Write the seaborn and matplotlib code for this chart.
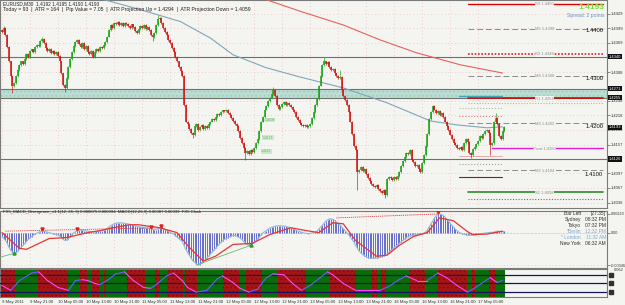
import numpy as np
import pandas as pd
import matplotlib
matplotlib.use('Agg')
import matplotlib.pyplot as plt
import seaborn as sns
from matplotlib.patches import Rectangle

# ---------------- data ----------------
# M30 closes, pips above 1.4000 (one value per bar)
close_pips = [
    392, 400, 385, 360, 330, 300, 278, 285, 300, 312,
    322, 330, 325, 335, 345, 340, 352, 355, 350, 360,
    365, 362, 372, 377, 368, 358, 352, 356, 348, 352,
    345, 350, 342, 330, 305, 282, 275, 295, 318, 335,
    350, 362, 370, 375, 366, 360, 368, 355, 362, 350,
    345, 352, 340, 350, 356, 352, 360, 358, 365, 370,
    382, 395, 405, 400, 410, 408, 412, 406, 410, 404,
    410, 408, 404, 400, 407, 402, 394, 390, 398, 403,
    400, 405, 398, 402, 395, 385, 380, 390, 405, 418,
    420, 410, 400, 392, 386, 375, 368, 358, 350, 340,
    330, 318, 310, 300, 240, 205, 200, 190, 182, 176,
    195, 200, 188, 194, 198, 190, 196, 192, 200, 205,
    210, 208, 215, 220, 218, 224, 228, 226, 230, 222,
    218, 212, 206, 200, 196, 185, 170, 160, 150, 140,
    144, 138, 146, 142, 150, 160, 168, 185, 205, 215,
    230, 238, 248, 255, 262, 270, 258, 240, 232, 236,
    242, 245, 240, 244, 240, 236, 230, 225, 215, 208,
    202, 198, 195, 198, 194, 196, 200, 212, 225, 240,
    252, 280, 300, 322, 330, 325, 328, 318, 312, 315,
    305, 300, 296, 298, 270, 258, 250, 240, 225, 205,
    180, 155, 145, 100, 105, 110, 102, 106, 95, 88,
    82, 75, 70, 68, 72, 65, 60, 56, 62, 52,
    85, 90, 88, 84, 90, 86, 92, 100, 112, 122,
    132, 140, 138, 146, 125, 120, 112, 115, 106, 100,
    118, 135, 155, 180, 210, 225, 238, 230, 222, 226,
    218, 222, 215, 205, 195, 188, 178, 168, 160, 156,
    150, 148, 152, 145, 160, 168, 162, 140, 136, 148,
    152, 158, 165, 175, 170, 180, 185, 188, 182, 156,
    160, 205, 213, 200, 175, 168, 185, 193,
]
first_open_pips = 395
high_spikes = {1: 404, 23: 381, 89: 427, 155: 276, 184: 340, 193: 312, 246: 240, 282: 223}
low_spikes = {6: 265, 36: 266, 86: 372, 109: 170, 139: 125, 203: 63, 219: 46, 268: 129, 279: 135}

# moving averages (bar, price)
ma_blue_bar = [55, 79, 102, 119, 132, 151, 170, 195, 220, 245, 260, 277, 286]
ma_blue_val = [1.4462, 1.4438, 1.4413, 1.4379, 1.4344, 1.4317, 1.4298, 1.4275,
               1.4244, 1.4206, 1.4198, 1.4192, 1.4194]
ma_red_bar = [150, 170, 195, 216, 237, 262, 286]
ma_red_val = [1.4460, 1.4435, 1.4406, 1.4375, 1.4348, 1.4323, 1.4306]

# horizontal levels
level_lines = [1.4340, 1.4273, 1.4254, 1.4127]
zone = (1.4255, 1.4271)
level_labels = ['1.4340', '1.4271', '1.4255', '1.4193', '1.4126']
level_label_vals = [1.4340, 1.4273, 1.4255, 1.4193, 1.4127]

pivot_names = ['R3', 'M5', 'R2', 'M4', 'R1', 'M3', 'Pivot', 'M2', 'S1']
pivot_vals = [1.4450, 1.4398, 1.4346, 1.4300, 1.4254, 1.4202, 1.4150, 1.4104, 1.4058]
round_vals = [1.4400, 1.4300, 1.4200, 1.4100]
proj_vals = [1.4258, 1.4234, 1.4217, 1.4133, 1.4117, 1.4089]

price_ticks = [1.4429, 1.4399, 1.4369, 1.4308, 1.4248, 1.4218, 1.4188, 1.4157,
               1.4097, 1.4067, 1.4036]

# MACD histogram, units of 1e-5
macd_hist = [
    -40, -60, -80, -110, -150, -180, -200, -210, -205, -190,
    -170, -150, -130, -110, -90, -70, -55, -40, -25, -15,
    -5, 5, 10, 15, 15, 10, 5, 0, -5, -10,
    -15, -20, -25, -35, -50, -70, -80, -75, -60, -40,
    -20, 0, 10, 20, 25, 25, 22, 20, 18, 15,
    12, 10, 8, 10, 12, 15, 18, 20, 25, 30,
    40, 55, 70, 80, 90, 95, 100, 100, 100, 98,
    95, 92, 90, 85, 80, 78, 72, 65, 60, 58,
    55, 52, 50, 48, 45, 40, 32, 28, 30, 38,
    45, 45, 40, 32, 25, 15, 5, -5, -15, -30,
    -45, -60, -75, -90, -130, -170, -200, -230, -260, -285,
    -300, -320, -330, -325, -310, -295, -280, -260, -240, -220,
    -200, -180, -160, -140, -120, -100, -85, -70, -60, -50,
    -40, -35, -30, -30, -35, -45, -55, -70, -90, -110,
    -120, -130, -125, -115, -100, -85, -65, -45, -25, -5,
    10, 20, 35, 45, 55, 60, 65, 68, 70, 70,
    70, 68, 65, 60, 55, 48, 40, 32, 25, 18,
    10, 5, 0, -5, -8, -10, -8, -5, 0, 8,
    15, 35, 55, 75, 95, 115, 130, 140, 140, 135,
    125, 110, 95, 80, 60, 40, 20, 0, -20, -45,
    -70, -95, -130, -160, -185, -205, -220, -235, -245, -255,
    -260, -262, -262, -260, -258, -255, -250, -245, -240, -230,
    -215, -200, -185, -170, -155, -140, -125, -110, -95, -80,
    -65, -50, -40, -32, -28, -25, -22, -20, -18, -15,
    -10, -5, 5, 25, 55, 85, 115, 145, 170, 185,
    190, 185, 175, 160, 140, 120, 95, 75, 55, 35,
    20, 5, -5, -12, -18, -22, -25, -25, -25, -22,
    -20, -18, -15, -12, -10, -8, -5, -2, 0, 2,
    3, 5, 10, 15, 12, 10, 10, 12,
]
signal_bar = [0, 10, 14, 27, 37, 49, 56, 62, 73, 78, 90, 100, 107, 115, 122, 132,
              143, 153, 165, 174, 181, 189, 195, 202, 214, 220, 227, 235, 243,
              250, 258, 266, 269, 277, 286]
signal_val = [0, -160, -170, -60, -50, 0, 20, 45, 80, 80, 50, 0, -150, -290, -240,
              -120, -110, -20, 50, 20, 0, 100, 90, -80, -240, -230, -130, -40, 0,
              150, 120, 10, -20, -15, 15]
bull_div = [(-1, -250, 7, -210), (111, -330, 142, -130)]
bear_div = [(2, 15, 92, 50), (191, 150, 249, 190)]
bear_arrows = [23, 43, 85, 91, 249]

# oscillator panel
osc_bar = [0, 5, 10, 17, 21, 26, 32, 38, 42, 46, 49, 53, 56, 60, 65, 70, 75, 81,
           85, 89, 94, 98, 103, 106, 111, 117, 123, 126, 132, 136, 141, 146, 151,
           155, 161, 166, 171, 176, 181, 186, 189, 195, 202, 209, 216, 222, 226,
           231, 237, 243, 249, 254, 260, 266, 269, 274, 279, 283, 286]
osc_val = [43, 26, 60, 86, 90, 60, 36, 26, 60, 63, 60, 50, 46, 60, 83, 90, 60, 36,
           33, 50, 76, 86, 60, 36, 20, 26, 66, 76, 53, 33, 20, 30, 70,
           83, 80, 50, 26, 43, 66, 90, 80, 50, 26, 26, 26, 43, 60,
           76, 60, 60, 86, 70, 43, 20, 30, 50, 70, 53, 60]
osc_levels = [80, 50, 20]
red_bands = [(-1.5, 7.5), (20.5, 37.5), (44.5, 48.5), (51.5, 55.5), (58.5, 59.5),
             (71.5, 81.5), (87.5, 90.5), (94.5, 103.5), (104.5, 111.5), (126.5, 135.5),
             (139.5, 148.5), (157.5, 173.5), (187.5, 202.5), (211.5, 214.5),
             (216.5, 219.5), (232.5, 241.5), (248.5, 265.5), (268.5, 270.5),
             (278.5, 282.5)]

date_labels = ['9 May 2011', '9 May 21:00', '10 May 05:00', '10 May 13:00',
               '10 May 21:00', '11 May 05:00', '11 May 13:00', '11 May 21:00',
               '12 May 05:00', '12 May 13:00', '12 May 21:00', '13 May 05:00',
               '13 May 13:00', '13 May 21:00', '16 May 05:00', '16 May 13:00',
               '16 May 21:00', '17 May 05:00']
clock_names = ['Bar Left', 'Sydney', 'Tokyo', '*Berlin', '* London', 'New York']
clock_times = ['[27:35]', '08:32 PM', '07:32 PM', '12:32 PM', '11:32 AM', '06:32 AM']

# ---------------- style ----------------
sns.set_theme(style='white')
plt.rcParams['font.family'] = ['Liberation Sans', 'DejaVu Sans']
plt.rcParams['hatch.linewidth'] = 0.6

BG = '#f4f4f0'
GRID = '#e6aaaa'
UP, DN = '#16a016', '#d01010'
W, H = 625, 305
XL = (-1.14, 345.7)

fig = plt.figure(figsize=(W / 100, H / 100), dpi=100, facecolor=BG)
ax = fig.add_axes([0, 1 - 208 / H, 607 / W, 208 / H], facecolor=BG)
ax2 = fig.add_axes([0, 1 - 268 / H, 607 / W, 57 / H], facecolor=BG)
ax3 = fig.add_axes([0, 1 - 297 / H, 607 / W, 28 / H], facecolor=BG)

n = len(close_pips)
idx = np.arange(n)
tick_bars = np.arange(0, 16 * len(date_labels), 16)

for a in (ax, ax2, ax3):
    a.set_xlim(*XL)
    for s in a.spines.values():
        s.set_color('#7a7a7a')
        s.set_linewidth(0.8)
    a.set_xticks(tick_bars)
    a.grid(True, color=GRID, ls=(0, (1, 4)), lw=0.5)
    a.yaxis.tick_right()
    a.tick_params(axis='y', labelsize=3, length=2, pad=1, colors='#303030', width=0.4)

# ---------------- main price panel ----------------
ax.set_ylim(1.4025, 1.4458)
ax.tick_params(axis='x', labelbottom=False, length=0)
ax.set_yticks(price_ticks)
ax.set_yticklabels([f'{v:.4f}' for v in price_ticks])

ax.add_patch(Rectangle((XL[0], zone[0]), XL[1] - XL[0], zone[1] - zone[0],
                       facecolor='#bcdcd6', edgecolor='#92d69a', hatch='....',
                       lw=0, zorder=1))
for v in level_lines:
    ax.axhline(v, color='#6f7070', lw=0.8, zorder=2)

# moving averages
sns.lineplot(x=ma_blue_bar, y=ma_blue_val, ax=ax, color='#7fa6b8', lw=0.8, zorder=3)
sns.lineplot(x=ma_red_bar, y=ma_red_val, ax=ax, color='#e86060', lw=0.8, zorder=3)

# pivot lines on the right
piv_start, piv_end = 266, 343.5
piv_style = {'R3': ('#e00000', '-', 1.0), 'R2': ('#e02020', (0, (1, 1)), 1.2),
             'R1': ('#e00000', '-', 1.2), 'Pivot': ('#e020e0', '-', 1.0),
             'S1': ('#2c8c2c', '-', 1.2)}
for name, v in zip(pivot_names, pivot_vals):
    col, ls, lw = piv_style.get(name, ('#8a8a8a', (0, (6, 3)), 0.7))
    start = 280 if name == 'Pivot' else piv_start
    ax.plot([start, piv_end], [v, v], color=col, ls=ls, lw=lw, zorder=2)
    ax.text(310, v - 0.00012, f'{name} {v:.4f}', fontsize=3, color='#8a8a8a',
            ha='center', va='center', zorder=4,
            bbox=dict(facecolor=BG, edgecolor='none', pad=0.2))
ax.plot([piv_start, piv_end], [1.4244, 1.4244], color='#9ad060', ls=(0, (1, 1.5)), lw=0.8, zorder=2)
ax.plot([piv_start, piv_end], [1.4044, 1.4044], color='#e04040', ls=(0, (1, 1.5)), lw=0.8, zorder=2)
for v in round_vals:
    ax.text(343.5, v - 0.00008, f'{v:.4f}', fontsize=4.2, color='#101010',
            ha='right', va='top', zorder=5)

proj_style = [('#40a8b8', '-', 1.0), ('#a8c0a0', ':', 0.8), ('#e08080', ':', 0.8),
              ('#e0a0a0', '-', 0.6), ('#a0a0a0', ':', 0.8), ('#802020', '-', 0.8)]
for v, (c, ls, lw) in zip(proj_vals, proj_style):
    ax.plot([261, 285.5], [v, v], color=c, ls=ls, lw=lw, zorder=2)

# candles
closes = 1.40 + np.array(close_pips) / 10000
opens = np.r_[1.40 + first_open_pips / 10000, closes[:-1]]
top = np.maximum(opens, closes)
bot = np.minimum(opens, closes)
highs = top + 0.0002
lows = bot - 0.0002
for k, v in high_spikes.items():
    highs[k] = 1.40 + v / 10000
for k, v in low_spikes.items():
    lows[k] = 1.40 + v / 10000
cols = np.where(closes >= opens, UP, DN)
ax.vlines(idx, lows, highs, colors=cols, lw=0.45, zorder=5)
ax.vlines(idx, bot, np.maximum(top, bot + 0.00008), colors=cols, lw=1.1, zorder=6)

# small green tags near the lows of 12 May
for b, v, t in [(150, 1.4208, '1.4208'), (149, 1.4171, '1.4171'), (148, 1.4143, '1.4143')]:
    ax.text(b, v, t, fontsize=2.4, color='#7aa87a', va='center', zorder=7,
            bbox=dict(facecolor='#c8ecc8', edgecolor='none', pad=0.3))

# axis highlight labels
trans = ax.get_yaxis_transform()
for t, v in zip(level_labels, level_label_vals):
    ax.text(1.003, v, t, transform=trans, fontsize=3, color='white', ha='left',
            va='center', clip_on=False, zorder=9,
            bbox=dict(facecolor='#101010', edgecolor='none', pad=0.4))

# header texts
fig.text(3 / W, 1 - 1 / H, 'EURUSD,M30  1.4192 1.4195 1.4190 1.4193', fontsize=3.4,
         color='#202020', va='top')
fig.text(3 / W, 1 - 6.5 / H,
         'Today = 93  |  ATR = 164  |  Pip Value = 7.05  |  ATR Projection Up = 1.4294  |  '
         'ATR Projection Down = 1.4059', fontsize=3.7, color='#202020', va='top')
fig.text(604 / W, 1 - 4 / H, '1.4193', fontsize=6, color='#78e03c', ha='right', va='top',
         fontweight='bold')
fig.text(605 / W, 1 - 12.5 / H, 'Spread: 2 points', fontsize=3.7, color='#6a94c0',
         ha='right', va='top')

# ---------------- MACD panel ----------------
hist = np.array(macd_hist) * 1e-5
ax2.set_ylim(-0.0036, 0.0022)
ax2.tick_params(axis='x', labelbottom=False, length=0)
ax2.set_yticks([0.0019, 0.0, -0.0033])
ax2.set_yticklabels(['0.00220', '0.00', '-0.00346'])
ax2.tick_params(axis='y', labelsize=2.7)
ax2.axhline(0, color='#a8a8a8', lw=0.4, ls=':')
ax2.vlines(idx, 0, hist, colors='#4f58c4', lw=0.6, zorder=2)
sns.lineplot(x=idx, y=hist, ax=ax2, color='#96b8d8', lw=0.8, zorder=3)
sns.lineplot(x=signal_bar, y=np.array(signal_val) * 1e-5, ax=ax2, color='#e83434',
             lw=0.9, zorder=4)
for b0, v0, b1, v1 in bull_div:
    ax2.plot([b0, b1], [v0 * 1e-5, v1 * 1e-5], color='#70b870', lw=0.6, zorder=4)
    ax2.plot([b1], [v1 * 1e-5], marker='^', color='#2a9a2a', ms=2.2, zorder=5)
for b0, v0, b1, v1 in bear_div:
    ax2.plot([b0, b1], [v0 * 1e-5, v1 * 1e-5], color='#e04040', lw=0.6,
             ls=(0, (1.5, 1)), zorder=4)
for b in bear_arrows:
    ax2.plot([b], [hist[b] + 0.0002], marker='v', color='#e02020', ms=2.2, zorder=5)

fig.text(3 / W, 1 - 210.5 / H,
         'FX5_MACD_Divergence_v1.1(12, 26, 9) 0.000875 0.000394  MACD(12,26,9) 0.00087 '
         '0.00039  FX5 Clock', fontsize=3.1, color='#202020', va='top')
for i, (nm, tm) in enumerate(zip(clock_names, clock_times)):
    c = '#7fa8d0' if nm.startswith('*') else '#303030'
    y = 1 - (211 + 6 * i) / H
    fig.text(581 / W, y, nm, fontsize=3.5, color=c, ha='right', va='top')
    fig.text(606 / W, y, tm, fontsize=3.5, color=c, ha='right', va='top')

# ---------------- oscillator panel ----------------
ax3.set_ylim(3, 100)
ax3.set_yticks([])
for s, e in red_bands:
    ax3.axvspan(max(s, XL[0]), e, facecolor='#a81414', edgecolor='#7a0c0c',
                hatch='....', lw=0, zorder=1)
edges = [XL[0]] + [x for se in red_bands for x in se] + [n - 0.5]
for s, e in zip(edges[0::2], edges[1::2]):
    if e > s:
        ax3.axvspan(s, e, facecolor='#086e08', lw=0, zorder=1)
for v in osc_levels:
    ax3.axhline(v, color='#141463', lw=0.9, zorder=3)
for i in range(len(osc_bar) - 1):
    c = '#6a5cff' if osc_val[i + 1] > osc_val[i] else '#ff46ff'
    ax3.plot(osc_bar[i:i + 2], osc_val[i:i + 2], color=c, lw=0.8, zorder=4)
for v in osc_levels:
    ax3.plot([1.006], [v], transform=ax3.get_yaxis_transform(), marker='s', ms=2.4,
             color='#303030', clip_on=False)
ax3.text(1.012, 96, '0.062', transform=ax3.get_yaxis_transform(), fontsize=2.8,
         color='#303030', va='center', clip_on=False)

ax3.set_xticklabels(date_labels, fontsize=3.1, color='#303030', ha='left')
ax3.tick_params(axis='x', length=2, pad=0.5, width=0.4, colors='#303030')

fig.savefig('out.png', dpi=100, facecolor=BG)
